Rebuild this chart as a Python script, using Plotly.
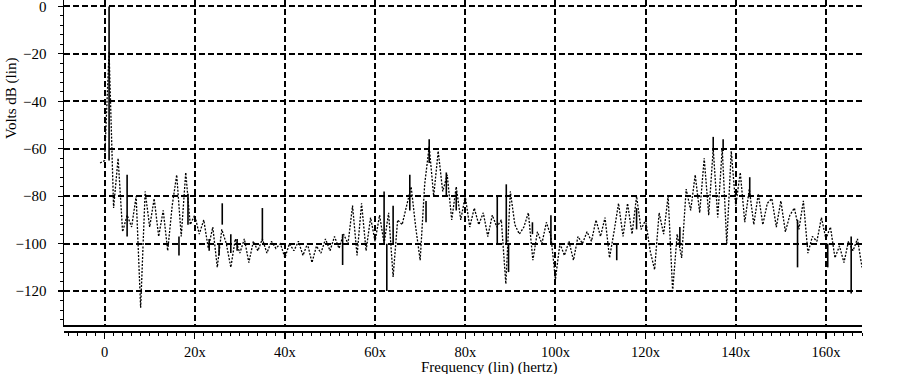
import plotly.graph_objects as go

# ---- data ----
freq_start = -1
dotted_db = [
    -66, -65, -19, -85, -64, -95, -88, -93, -80, -127,   # -1 .. 8
    -78, -93, -81, -97, -86, -103, -84, -71, -97, -70,   # 9 .. 18
    -92, -88, -96, -90, -102, -93, -110, -94, -100, -110,  # 19 .. 28
    -98, -104, -98, -108, -99, -103, -98, -104, -99, -102,  # 29 .. 38
    -100, -106, -100, -103, -99, -105, -100, -108, -101, -104,  # 39 .. 48
    -98, -103, -97, -102, -96, -100, -84, -105, -83, -103,  # 49 .. 58
    -89, -99, -88, -100, -87, -114, -90, -92, -84, -76,   # 59 .. 68
    -93, -107, -75, -59, -80, -61, -78, -71, -90, -76,    # 69 .. 78
    -90, -80, -93, -85, -92, -87, -97, -88, -93, -90,    # 79 .. 88
    -117, -78, -92, -96, -93, -87, -107, -95, -100, -91,   # 89 .. 98
    -97, -115, -100, -105, -99, -107, -97, -100, -95, -99,  # 99 .. 108
    -90, -97, -89, -106, -95, -83, -97, -83, -96, -80,    # 109 .. 118
    -94, -90, -103, -111, -87, -96, -80, -120, -96, -106,  # 119 .. 128
    -77, -86, -71, -87, -64, -88, -60, -89, -60, -100,    # 129 .. 138
    -61, -84, -70, -91, -77, -92, -79, -92, -83, -81,     # 139 .. 148
    -93, -82, -95, -88, -85, -94, -82, -104, -97, -99,    # 149 .. 158
    -89, -98, -93, -106, -101, -108, -99, -103, -98, -110,  # 159 .. 168
    -104, -99,
]

spike_freq = [1.0, 5.0, 16.5, 18.5, 23.2, 25.4, 26.1, 28.0, 29.4, 35.0,
              52.8, 62.0, 62.6, 64.0, 67.7, 71.3, 72.0, 75.8, 78.0, 87.1,
              89.1, 89.6, 94.9, 99.0, 113.6, 118.0, 127.6, 135.0, 137.2, 143.1,
              153.7, 160.4, 165.6]
spike_top = [0, -71, -97, -79, -98, -100, -83, -96, -98, -85,
             -96, -78, -100, -84, -71, -82, -56, -70, -78, -80,
             -75, -100, -91, -88, -100, -85, -93, -55, -56, -72,
             -90, -100, -97]
spike_bottom = [-65, -97, -105, -92, -103, -105, -92, -104, -103, -99,
                -109, -100, -120, -100, -86, -91, -66, -80, -86, -100,
                -100, -112, -96, -100, -107, -94, -101, -61, -61, -80,
                -110, -110, -121]

x_tick_vals = [0, 20, 40, 60, 80, 100, 120, 140, 160]
x_tick_text = ["0", "20x", "40x", "60x", "80x", "100x", "120x", "140x", "160x"]
y_tick_vals = [0, -20, -40, -60, -80, -100, -120]
y_tick_text = ["0", "\u221220", "\u221240", "\u221260", "\u221280", "\u2212100", "\u2212120"]

x_range = [-9, 168]
y_range = [-134.3, 2.7]

# ---- build figure ----
dotted_x = [freq_start + i for i in range(len(dotted_db))]

sx, sy = [], []
for f, t, b in zip(spike_freq, spike_top, spike_bottom):
    sx += [f, f, None]
    sy += [t, b, None]

FONT = "'Liberation Serif', 'Times New Roman', Times, serif"

fig = go.Figure()
fig.add_trace(go.Scatter(x=dotted_x, y=dotted_db, mode="lines",
                         line=dict(color="black", width=1.3, dash="2px,1.5px"),
                         showlegend=False, hoverinfo="skip"))
fig.add_trace(go.Scatter(x=sx, y=sy, mode="lines",
                         line=dict(color="black", width=1.6),
                         showlegend=False, hoverinfo="skip"))
# invisible trace so the secondary (tick) axis renders
fig.add_trace(go.Scatter(x=[x_range[0]], y=[y_range[0]], xaxis="x2", mode="markers",
                         marker=dict(opacity=0), showlegend=False, hoverinfo="skip"))

plot_h = 331.0
fig.update_layout(
    template="none",
    width=903, height=374,
    margin=dict(l=64, r=41, t=0, b=43, pad=0, autoexpand=False),
    paper_bgcolor="white", plot_bgcolor="white",
    font=dict(family=FONT, size=15, color="black"),
    xaxis=dict(range=x_range, showline=True, linecolor="black", linewidth=1.5,
               showticklabels=False, ticks="", zeroline=False, automargin=False,
               showgrid=True, gridcolor="black", gridwidth=2, griddash="6px,3px",
               tickmode="array", tickvals=x_tick_vals),
    xaxis2=dict(range=x_range, overlaying="x", anchor="free", position=0,
                showline=True, linecolor="black", linewidth=1.5, automargin=False,
                showgrid=False, zeroline=False, ticklabeloverflow="allow",
                tickmode="array", tickvals=x_tick_vals, ticktext=x_tick_text,
                ticks="outside", ticklen=6, tickwidth=1.2, tickcolor="black",
                ticklabelstandoff=1,
                minor=dict(tickmode="linear", tick0=0, dtick=2, ticks="outside",
                           ticklen=3, tickwidth=1, tickcolor="black", showgrid=False),
                tickfont=dict(family=FONT, size=14.5, color="black")),
    yaxis=dict(range=y_range, domain=[6 / plot_h, 1], automargin=False,
               showline=True, linecolor="black", linewidth=1.5, zeroline=False,
               showgrid=True, gridcolor="black", gridwidth=2, griddash="6px,3px",
               ticklabeloverflow="allow",
               tickmode="array", tickvals=y_tick_vals, ticktext=y_tick_text,
               ticks="outside", ticklen=5, tickwidth=1.2, tickcolor="black",
               ticklabelstandoff=8,
               minor=dict(tickmode="linear", tick0=0, dtick=4, ticks="outside",
                          ticklen=3, tickwidth=1, tickcolor="black", showgrid=False),
               tickfont=dict(family=FONT, size=15, color="black")),
    annotations=[
        dict(text="Volts dB (lin)", xref="paper", yref="paper", x=0, y=(plot_h - 99) / plot_h,
             xshift=-52, textangle=-90, showarrow=False, xanchor="center", yanchor="middle",
             font=dict(family=FONT, size=15, color="black")),
        dict(text="Frequency (lin) (hertz)", xref="paper", yref="paper",
             x=(489 - 64) / 798, y=(plot_h - 367) / plot_h, showarrow=False,
             xanchor="center", yanchor="middle", font=dict(family=FONT, size=15, color="black")),
    ],
)

fig.write_html(
    "out.html",
    config={"displayModeBar": False, "staticPlot": True},
    post_script="document.body.style.margin='0';document.body.style.padding='0';"
                "document.documentElement.style.overflow='hidden';",
)
